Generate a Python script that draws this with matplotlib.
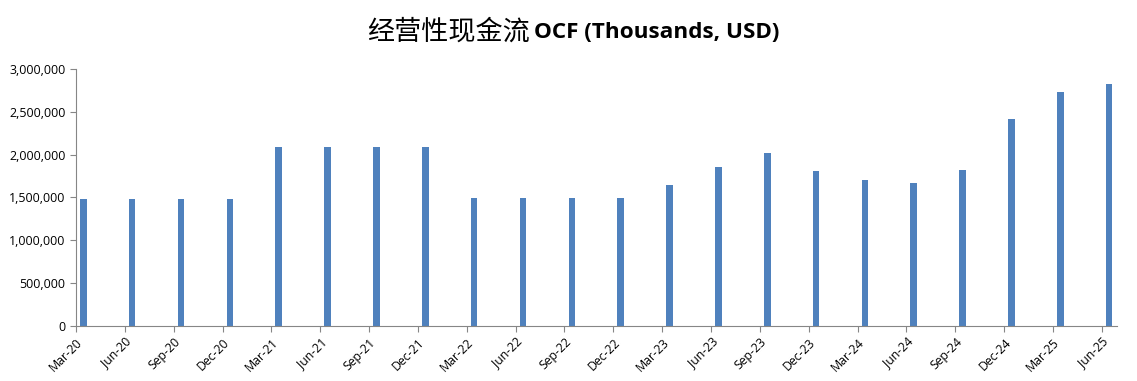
import matplotlib
matplotlib.use("Agg")
import numpy as np
import matplotlib.pyplot as plt
from matplotlib.ticker import FuncFormatter

# quarterly operating cash flow, thousands USD
quarters = ["Mar-20", "Jun-20", "Sep-20", "Dec-20",
            "Mar-21", "Jun-21", "Sep-21", "Dec-21",
            "Mar-22", "Jun-22", "Sep-22", "Dec-22",
            "Mar-23", "Jun-23", "Sep-23", "Dec-23",
            "Mar-24", "Jun-24", "Sep-24", "Dec-24",
            "Mar-25", "Jun-25"]
ocf = [1480000, 1480000, 1480000, 1480000,
       2090000, 2090000, 2090000, 2090000,
       1490000, 1490000, 1490000, 1490000,
       1645000, 1855000, 2020000, 1810000,
       1705000, 1670000, 1820000, 2415000,
       2730000, 2825000]
yticks = [0, 500000, 1000000, 1500000, 2000000, 2500000, 3000000]

fig = plt.figure(figsize=(11.37, 3.81), dpi=100)
ax = fig.add_axes([0.0668, 0.1444, 0.9156, 0.6746])

x = np.arange(len(quarters))
ax.bar(x + 0.15, ocf, width=0.135, color="#4F81BD")

ax.set_xlim(0, 21.31)
ax.set_ylim(0, 3000000)
ax.set_xticks(x)
ax.set_xticklabels(quarters, rotation=45, ha="right", rotation_mode="anchor",
                   fontsize=8.8, family="Open Sans")
ax.set_yticks(yticks)
ax.yaxis.set_major_formatter(FuncFormatter(lambda v, p: f"{int(v):,}"))
for lbl in ax.get_yticklabels():
    lbl.set_family("Open Sans")
    lbl.set_fontsize(9)

for s in ["top", "right"]:
    ax.spines[s].set_visible(False)
for s in ["left", "bottom"]:
    ax.spines[s].set_color("#868686")
ax.tick_params(axis="both", colors="#868686", length=4, labelcolor="black")
ax.tick_params(axis="x", pad=3)

fig.text(0.466, 0.915, "经营性现金流", ha="right", va="center",
         family="Noto Sans CJK SC", fontsize=19.5)
fig.text(0.470, 0.915, "OCF (Thousands, USD)", ha="left", va="center",
         family="Open Sans", fontweight="bold", fontsize=16.2)

fig.savefig("out.png", dpi=100)
